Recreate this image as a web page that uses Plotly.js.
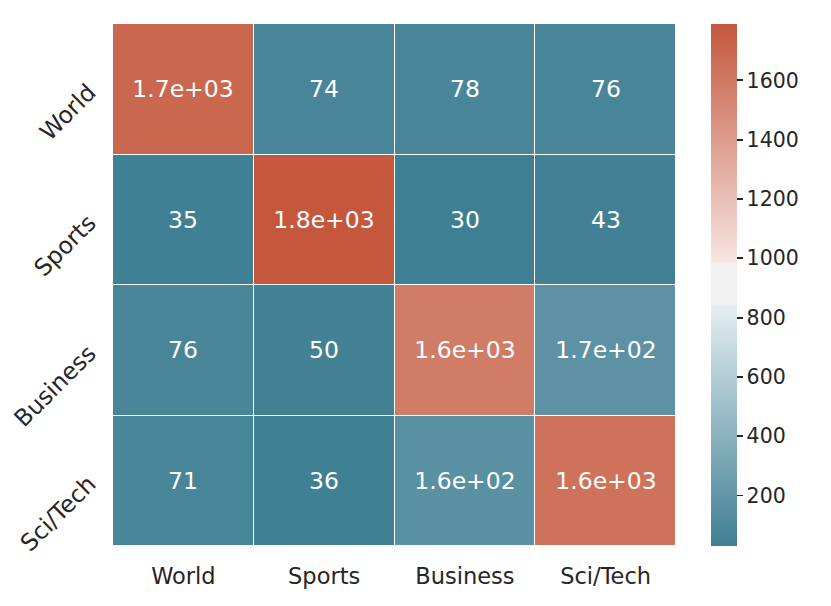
<!DOCTYPE html>
<html>
<head>
<meta charset="utf-8">
<script src="https://cdn.plot.ly/plotly-3.0.1.min.js"></script>
<style>html,body{margin:0;padding:0;background:#fff;}#chart{width:831px;height:606px;}</style>
</head>
<body>
<div id="chart"></div>
<script>
const predicted = ["World", "Sports", "Business", "Sci/Tech"];
const actual = ["World", "Sports", "Business", "Sci/Tech"];
const rowWorld = [1700, 74, 78, 76];
const rowSports = [35, 1790, 30, 43];
const rowBusiness = [76, 50, 1580, 170];
const rowSciTech = [71, 36, 160, 1640];
const cbTicks = [200, 400, 600, 800, 1000, 1200, 1400, 1600];

const z = [rowWorld, rowSports, rowBusiness, rowSciTech];

function fmt2g(v) {
  if (Math.abs(v) >= 100) {
    const e = Math.floor(Math.log10(Math.abs(v)));
    const m = (v / Math.pow(10, e)).toFixed(1);
    return m + "e+" + String(e).padStart(2, "0");
  }
  return String(Number(v.toPrecision(2)));
}
const text = z.map(r => r.map(fmt2g));

const font = "DejaVu Sans, Liberation Sans, sans-serif";
const colorscale = [
  [0, "#3f7f93"],
  [0.46, "#e4eef2"],
  [0.465, "#f2f2f2"],
  [0.54, "#f2f2f2"],
  [0.545, "#f7e5e1"],
  [1, "#c4573c"]
];

const trace = {
  type: "heatmap",
  x: predicted,
  y: actual,
  z: z,
  text: text,
  texttemplate: "%{text}",
  textfont: {family: font, size: 23.5, color: "#ffffff"},
  colorscale: colorscale,
  zmin: 30,
  zmax: 1790,
  xgap: 1,
  ygap: 1,
  hoverinfo: "skip",
  colorbar: {
    x: 1.062, xanchor: "left", xref: "paper",
    y: 0.5, yanchor: "middle", len: 1, lenmode: "fraction",
    xpad: 0, ypad: 0,
    thickness: 26, thicknessmode: "pixels",
    outlinewidth: 0,
    tickmode: "array", tickvals: cbTicks,
    ticks: "outside", ticklen: 6, tickwidth: 1.8, tickcolor: "#262626",
    tickprefix: "\u00a0",
    tickfont: {family: font, size: 20.5, color: "#262626"}
  }
};

const layout = {
  width: 831, height: 606,
  margin: {l: 113, r: 155, t: 24, b: 60, pad: 0},
  paper_bgcolor: "#ffffff",
  plot_bgcolor: "#ffffff",
  font: {family: font, color: "#262626"},
  xaxis: {
    type: "category", showgrid: false, zeroline: false, showline: false,
    ticks: "", ticklabelstandoff: 14,
    tickfont: {family: font, size: 22.5, color: "#262626"}
  },
  yaxis: {
    type: "category", autorange: "reversed", showgrid: false, zeroline: false, showline: false,
    ticks: "", tickangle: -45, ticklabelstandoff: 23,
    tickfont: {family: font, size: 23.5, color: "#262626"}
  }
};

Plotly.newPlot("chart", [trace], layout, {displayModeBar: false, staticPlot: true});
</script>
</body>
</html>
